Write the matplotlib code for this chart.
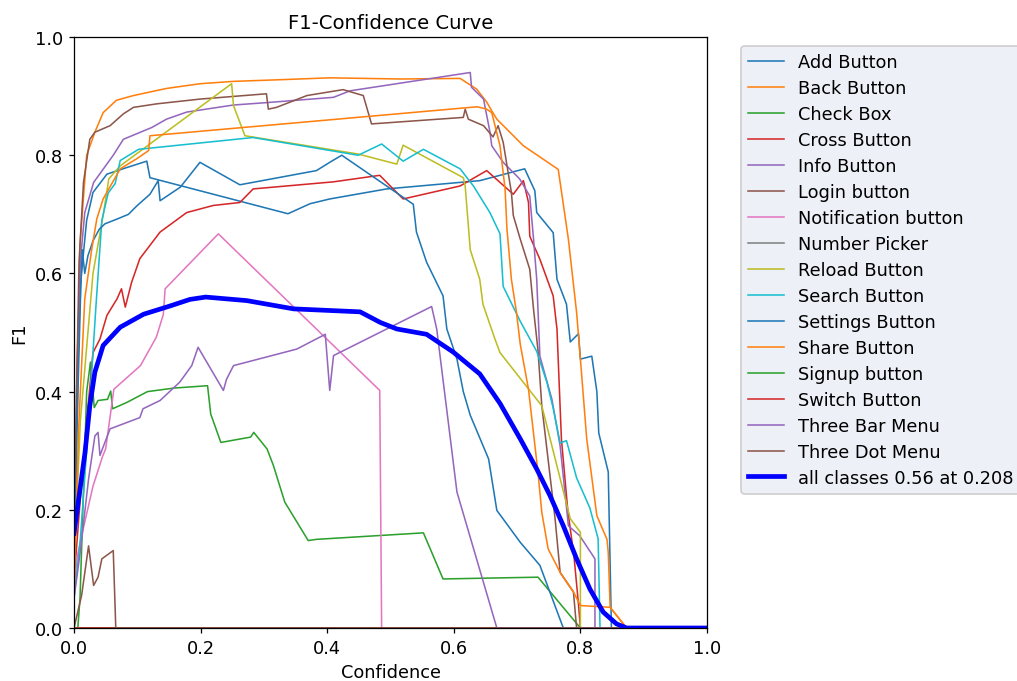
import matplotlib
matplotlib.use("Agg")
import matplotlib.pyplot as plt
import numpy as np

# Per-class F1 vs confidence (piecewise samples)
add_x = [0, 0.005, 0.01, 0.02, 0.03, 0.052, 0.08, 0.115, 0.12, 0.338, 0.373, 0.404, 0.494, 0.641, 0.712,
         0.728, 0.731, 0.757, 0.763, 0.778, 0.784, 0.797, 0.800, 0.818, 0.826, 0.829, 0.844, 0.849, 1.0]
add_y = [0.15, 0.40, 0.58, 0.69, 0.737, 0.768, 0.778, 0.79, 0.762, 0.701, 0.718, 0.726, 0.743, 0.757, 0.777,
         0.740, 0.703, 0.669, 0.590, 0.548, 0.484, 0.498, 0.455, 0.460, 0.400, 0.330, 0.264, 0.0, 0.0]

back_x = [0, 0.005, 0.0095, 0.02, 0.033, 0.046, 0.067, 0.094, 0.146, 0.199, 0.252, 0.331, 0.404, 0.515, 0.61,
          0.636, 0.652, 0.660, 0.668, 0.710, 0.765, 0.781, 0.794, 0.800, 0.810, 0.826, 0.842, 0.844, 0.847,
          0.873, 1.0]
back_y = [0.10, 0.35, 0.65, 0.80, 0.839, 0.872, 0.893, 0.901, 0.913, 0.921, 0.925, 0.928, 0.931, 0.929, 0.930,
          0.912, 0.890, 0.875, 0.861, 0.816, 0.776, 0.658, 0.534, 0.455, 0.320, 0.190, 0.150, 0.128, 0.035,
          0.0, 0.0]

checkbox_x = [0, 0.006, 0.0095, 0.02, 0.026, 0.032, 0.038, 0.053, 0.058, 0.061, 0.084, 0.116, 0.158, 0.211,
              0.216, 0.232, 0.279, 0.284, 0.305, 0.315, 0.333, 0.370, 0.383, 0.552, 0.583, 0.733, 0.800, 1.0]
checkbox_y = [0.0, 0.0, 0.05, 0.40, 0.45, 0.373, 0.385, 0.387, 0.401, 0.371, 0.382, 0.400, 0.406, 0.410,
              0.362, 0.314, 0.323, 0.331, 0.303, 0.275, 0.213, 0.148, 0.150, 0.161, 0.083, 0.086, 0.0, 0.0]

cross_x = [0, 0.01, 0.02, 0.03, 0.041, 0.052, 0.068, 0.075, 0.081, 0.091, 0.104, 0.136, 0.178, 0.220, 0.262,
           0.283, 0.41, 0.483, 0.520, 0.610, 0.652, 0.694, 0.710, 0.718, 0.720, 0.736, 0.757, 0.763, 0.770,
           0.780, 0.790, 0.797, 0.800, 1.0]
cross_y = [0.08, 0.22, 0.35, 0.466, 0.489, 0.529, 0.557, 0.574, 0.543, 0.585, 0.625, 0.670, 0.703, 0.715, 0.720,
           0.743, 0.755, 0.766, 0.726, 0.748, 0.774, 0.734, 0.757, 0.720, 0.663, 0.624, 0.562, 0.506, 0.320,
           0.200, 0.120, 0.040, 0.0, 0.0]

info_x = [0, 0.005, 0.01, 0.017, 0.031, 0.062, 0.078, 0.123, 0.146, 0.178, 0.252, 0.304, 0.41, 0.436, 0.626,
          0.628, 0.647, 0.657, 0.660, 0.678, 0.704, 0.72, 0.726, 0.731, 0.736, 0.755, 0.768, 0.781, 0.799,
          0.823, 0.823, 1.0]
info_y = [0.12, 0.45, 0.62, 0.703, 0.754, 0.80, 0.827, 0.847, 0.861, 0.873, 0.885, 0.889, 0.898, 0.909, 0.94,
          0.915, 0.895, 0.84, 0.816, 0.788, 0.760, 0.731, 0.658, 0.59, 0.46, 0.387, 0.308, 0.173, 0.156,
          0.117, 0.0, 0.0]

login_x = [0, 0.004, 0.008, 0.015, 0.025, 0.033, 0.057, 0.078, 0.094, 0.131, 0.199, 0.304, 0.307, 0.32, 0.368,
           0.425, 0.457, 0.470, 0.615, 0.618, 0.623, 0.647, 0.662, 0.670, 0.678, 0.691, 0.694, 0.705, 0.72,
           0.726, 0.733, 0.739, 0.760, 0.768, 0.789, 0.794, 1.0]
login_y = [0.05, 0.40, 0.62, 0.754, 0.827, 0.839, 0.850, 0.870, 0.881, 0.887, 0.895, 0.904, 0.878, 0.881, 0.901,
           0.911, 0.901, 0.853, 0.864, 0.878, 0.861, 0.850, 0.831, 0.850, 0.822, 0.737, 0.698, 0.658, 0.607,
           0.539, 0.47, 0.376, 0.185, 0.094, 0.061, 0.0, 0.0]

notif_x = [0, 0.005, 0.015, 0.03, 0.045, 0.05, 0.063, 0.105, 0.13, 0.141, 0.144, 0.228, 0.483, 0.486, 1.0]
notif_y = [0.07, 0.12, 0.17, 0.24, 0.29, 0.303, 0.404, 0.444, 0.492, 0.53, 0.574, 0.667, 0.402, 0.0, 0.0]

picker_x = [0, 1.0]
picker_y = [0.0, 0.0]

reload_x = [0, 0.01, 0.03, 0.046, 0.055, 0.073, 0.249, 0.252, 0.270, 0.449, 0.510, 0.520, 0.615, 0.618, 0.626,
            0.641, 0.646, 0.665, 0.673, 0.739, 0.784, 0.800, 0.800, 1.0]
reload_y = [0.10, 0.35, 0.60, 0.698, 0.76, 0.782, 0.921, 0.884, 0.833, 0.802, 0.785, 0.817, 0.762, 0.748, 0.640,
            0.590, 0.548, 0.489, 0.466, 0.376, 0.185, 0.162, 0.0, 0.0]

search_x = [0, 0.01, 0.02, 0.035, 0.044, 0.054, 0.065, 0.073, 0.102, 0.283, 0.449, 0.486, 0.520, 0.552, 0.610,
            0.631, 0.657, 0.673, 0.678, 0.705, 0.731, 0.747, 0.757, 0.768, 0.778, 0.794, 0.815, 0.828, 0.831, 1.0]
search_y = [0.05, 0.15, 0.30, 0.55, 0.69, 0.736, 0.752, 0.791, 0.810, 0.830, 0.800, 0.819, 0.790, 0.810, 0.777,
            0.748, 0.703, 0.667, 0.578, 0.519, 0.468, 0.416, 0.372, 0.313, 0.317, 0.254, 0.203, 0.151, 0.0, 0.0]

settings_x = [0, 0.005, 0.01, 0.013, 0.017, 0.022, 0.03, 0.04, 0.049, 0.068, 0.086, 0.099, 0.12, 0.133, 0.136,
              0.168, 0.199, 0.262, 0.383, 0.404, 0.423, 0.536, 0.541, 0.557, 0.583, 0.589, 0.605, 0.615, 0.626,
              0.655, 0.668, 0.705, 0.736, 0.773, 1.0]
settings_y = [0.10, 0.35, 0.55, 0.64, 0.60, 0.63, 0.655, 0.675, 0.684, 0.692, 0.700, 0.714, 0.734, 0.757, 0.723,
              0.746, 0.788, 0.750, 0.774, 0.788, 0.800, 0.717, 0.670, 0.619, 0.562, 0.506, 0.455, 0.400, 0.360,
              0.286, 0.199, 0.145, 0.106, 0.0, 0.0]

share_x = [0, 0.007, 0.017, 0.028, 0.036, 0.046, 0.073, 0.099, 0.118, 0.120, 0.637, 0.652, 0.660, 0.673, 0.681,
           0.684, 0.691, 0.699, 0.705, 0.718, 0.733, 0.739, 0.749, 0.768, 0.789, 0.800, 0.847, 0.873, 1.0]
share_y = [0.05, 0.331, 0.557, 0.641, 0.692, 0.726, 0.777, 0.794, 0.808, 0.833, 0.882, 0.878, 0.872, 0.816, 0.743,
           0.675, 0.590, 0.534, 0.48, 0.404, 0.263, 0.196, 0.134, 0.094, 0.061, 0.038, 0.035, 0.0, 0.0]

signup_x = [0, 1.0]
signup_y = [0.0, 0.0]

switch_x = [0, 1.0]
switch_y = [0.0, 0.0]

threebar_x = [0, 0.01, 0.023, 0.033, 0.038, 0.041, 0.057, 0.104, 0.109, 0.136, 0.167, 0.186, 0.196, 0.236, 0.241,
              0.252, 0.352, 0.397, 0.404, 0.41, 0.565, 0.573, 0.605, 0.668, 1.0]
threebar_y = [0.05, 0.13, 0.252, 0.325, 0.331, 0.292, 0.337, 0.356, 0.371, 0.385, 0.416, 0.444, 0.475, 0.402, 0.421,
              0.444, 0.472, 0.497, 0.402, 0.461, 0.544, 0.506, 0.230, 0.0, 0.0]

threedot_x = [0, 0.012, 0.023, 0.031, 0.038, 0.044, 0.062, 0.066, 1.0]
threedot_y = [0.0, 0.055, 0.139, 0.072, 0.086, 0.117, 0.131, 0.0, 0.0]

# Mean F1 over all classes
all_x = [0, 0.0095, 0.0174, 0.025, 0.033, 0.046, 0.073, 0.110, 0.152, 0.183, 0.208, 0.273, 0.347, 0.452, 0.484,
         0.510, 0.557, 0.599, 0.641, 0.673, 0.705, 0.731, 0.752, 0.773, 0.794, 0.815, 0.836, 0.857, 0.873, 1.0]
all_y = [0.16, 0.235, 0.297, 0.376, 0.433, 0.478, 0.509, 0.531, 0.545, 0.556, 0.560, 0.554, 0.540, 0.535, 0.517,
         0.506, 0.497, 0.467, 0.43, 0.38, 0.320, 0.269, 0.224, 0.173, 0.117, 0.066, 0.027, 0.007, 0.0, 0.0]

class_names = ["Add Button", "Back Button", "Check Box", "Cross Button", "Info Button", "Login button",
               "Notification button", "Number Picker", "Reload Button", "Search Button", "Settings Button",
               "Share Button", "Signup button", "Switch Button", "Three Bar Menu", "Three Dot Menu"]
class_curves = [(add_x, add_y), (back_x, back_y), (checkbox_x, checkbox_y), (cross_x, cross_y),
                (info_x, info_y), (login_x, login_y), (notif_x, notif_y), (picker_x, picker_y),
                (reload_x, reload_y), (search_x, search_y), (settings_x, settings_y), (share_x, share_y),
                (signup_x, signup_y), (switch_x, switch_y), (threebar_x, threebar_y), (threedot_x, threedot_y)]

plt.rcParams["font.size"] = 11.3

fig = plt.figure(figsize=(9, 6.035), dpi=113)
ax = fig.add_axes([74 / 1017, 53 / 682, 633 / 1017, 591 / 682])

for i, (name, (cx, cy)) in enumerate(zip(class_names, class_curves)):
    ax.plot(cx, cy, linewidth=1, color=f"C{i % 10}", label=name)

best = int(np.argmax(all_y))
ax.plot(all_x, all_y, linewidth=3, color="blue",
        label=f"all classes {all_y[best]:.2f} at {all_x[best]:.3f}")

ax.set_xlabel("Confidence")
ax.set_ylabel("F1")
ax.set_xlim(0, 1)
ax.set_ylim(0, 1)
ax.set_title("F1-Confidence Curve", fontsize=12.5)
leg = ax.legend(bbox_to_anchor=(1.04, 1), loc="upper left", facecolor="#eef0f7", framealpha=1.0,
                labelspacing=0.45)

fig.savefig("out.png", dpi=113)
